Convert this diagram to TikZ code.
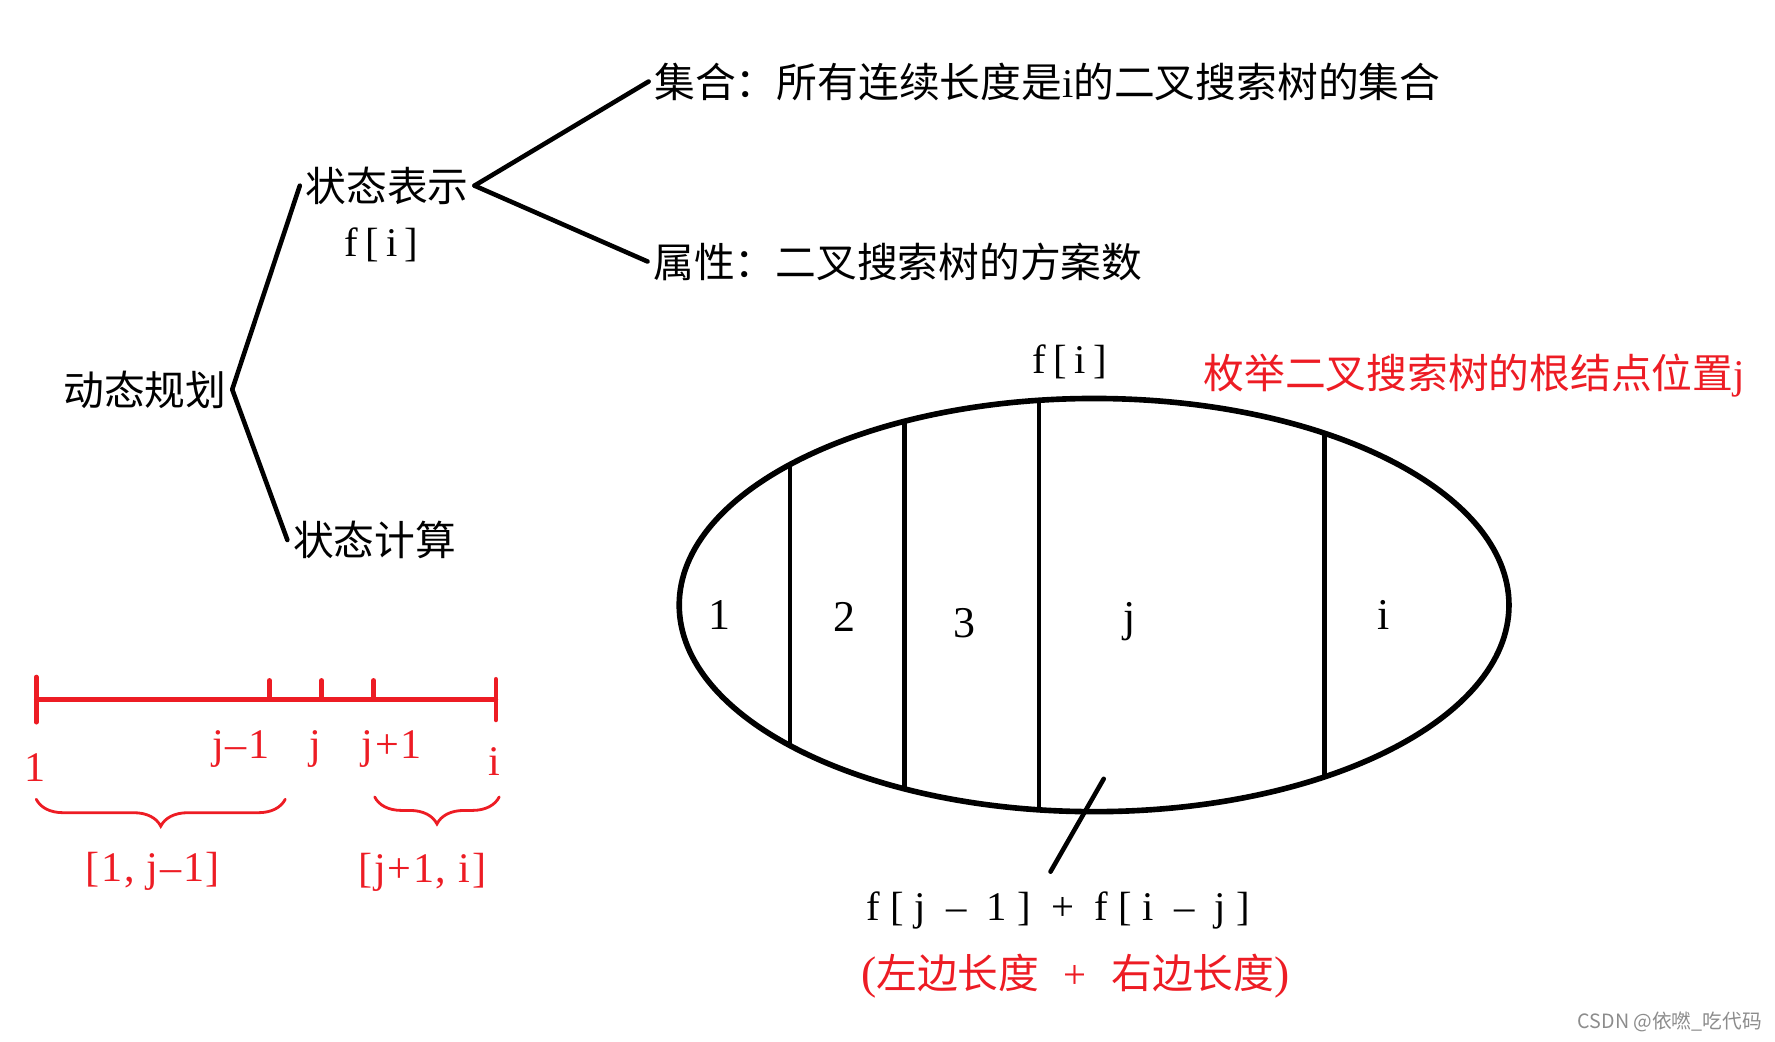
\documentclass[tikz,border=0pt]{standalone}
\usepackage{fontspec}
\setmainfont{Liberation Serif}
\newfontfamily\cjk{Noto Sans CJK SC}
\newfontfamily\latin[LetterSpace=18]{Liberation Serif}
\newfontfamily\wide[LetterSpace=25]{Liberation Serif}
\newfontfamily\redfont[LetterSpace=4]{Liberation Serif}
\usetikzlibrary{positioning,decorations.pathreplacing}
\definecolor{paintred}{RGB}{237,28,36}

\begin{document}
\begin{tikzpicture}[x=0.01132cm,y=-0.01132cm,line width=1.3pt,line cap=round,
  cn node/.style={inner sep=1pt,font=\cjk\fontsize{11.6}{14}\selectfont},
  lt node/.style={inner sep=1pt,font=\latin\fontsize{11.6}{14}\selectfont},
  num node/.style={inner sep=0pt,anchor=base,font=\latin\fontsize{12.5}{14}\selectfont},
  red node/.style={inner sep=1pt,text=paintred,font=\redfont\fontsize{12}{14}\selectfont},
  red line/.style={draw=paintred,line width=1.3pt},
  red brace/.style={draw=paintred,line width=0.8pt,decorate,decoration={brace,mirror,amplitude=2.7mm}}]
\useasboundingbox (0,0) rectangle (1568,920);

\node[cn node] (dp) at (128,344) {动态规划};
\node[cn node] (rep) at (342,164) {状态表示};
\node[lt node] (repf) at (337,216) {f[i]};
\node[cn node] (calc) at (331,477) {状态计算};
\node[cn node,anchor=west] (set) at (573,72) {集合：所有连续长度是{\latin i}的二叉搜索树的集合};
\node[cn node,anchor=west] (attr) at (572,231) {属性：二叉搜索树的方案数};
\path
    (dp.east) edge (rep.west)
    (dp.east) edge (calc.west)
    (rep.east) edge (set.west)
    (rep.east) edge (attr.west)
;

\coordinate (mid) at (966.5,534.5);
\begin{scope}
\clip (mid) ellipse [x radius=366.5,y radius=182.5];
\foreach \x in {698,799,918,1170}
    \draw (\x,340) -- (\x,730);
\end{scope}
\draw[line width=1.6pt] (mid) ellipse [x radius=366.5,y radius=182.5];
\node[num node] (p1) at (636,556) {1};
\node[num node] (p2) at (746,558) {2};
\node[num node] (p3) at (852,563) {3};
\node[num node] (pj) at (998,558) {j};
\node[num node] (pi) at (1222,556) {i};

\node[lt node] (rootf) at (945,320) {f[i]};
\node[cn node,anchor=west,text=paintred] (enum) at (1058,332) {枚举二叉搜索树的根结点位置{\latin j}};
\coordinate (tip) at (975,688);
\coordinate (tail) at (928,770);
\draw (tip) -- (tail);
\node[lt node,font=\wide\fontsize{11.6}{14}\selectfont] (sum) at (935,804) {f[j – 1] + f[i – j]};
\node[cn node,text=paintred] (sumtext) at (950,862) {{\latin\fontsize{13}{14}\selectfont(}左边长度\hspace{0.6em}{\latin +}\hspace{0.6em}右边长度{\latin\fontsize{13}{14}\selectfont)}};

\coordinate (a) at (32,618);
\coordinate (b) at (438,618);
\draw[red line] (a) -- (b);
\draw[red line] (32,598) -- (32,638);
\draw[red line] (438,600) -- (438,636);
\foreach \x in {238,284,330}
    \draw[red line] (\x,601) -- (\x,618);
\node[red node] (l1) at (31,678) {1};
\node[red node] (ljm) at (213,662) {j–1};
\node[red node] (lj) at (279,662) {j};
\node[red node] (ljp) at (346,662) {j+1};
\node[red node] (li) at (437,673) {i};
\draw[red brace] (32,706) -- (252,706);
\draw[red brace] (331,704) -- (441,704);
\node[red node] (left) at (135,770) {[1, j–1]};
\node[red node] (right) at (373,771) {[j+1, i]};

\node[font=\cjk\fontsize{5.6}{7}\selectfont,text=black!45] (mark) at (1475,903) {CSDN @依嘫\_吃代码};
\end{tikzpicture}
\end{document}
